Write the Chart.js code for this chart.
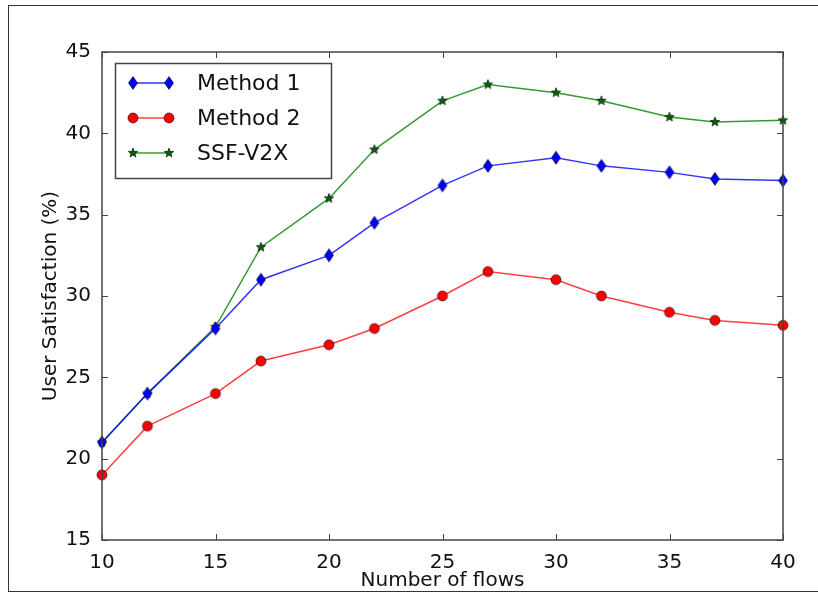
<!DOCTYPE html>
<html lang="en">
<head>
  <meta charset="UTF-8">
  <title>User Satisfaction vs Number of flows</title>
  <script src="https://cdn.jsdelivr.net/npm/chart.js"></script>
  <style>
    html, body {
      margin: 0;
      padding: 0;
      background: white;
      overflow: hidden;
    }
    #wrap {
      position: relative;
      width: 818px;
      height: 593px;
    }
    #borda {
      position: absolute;
      left: 8px;
      top: 5px;
      width: 810px;
      height: 585px;
      border-left: 1.5px solid #333;
      border-top: 1.5px solid #333;
      border-bottom: 1.5px solid #333;
      pointer-events: none;
    }
    canvas {
      display: block;
    }
  </style>
</head>
<body>
  <div id="wrap">
    <canvas id="grafico" width="818" height="593"></canvas>
    <div id="borda"></div>
  </div>

  <script>
    // data
    const flows = [10, 12, 15, 17, 20, 22, 25, 27, 30, 32, 35, 37, 40];
    const method1 = [21, 24, 28, 31, 32.5, 34.5, 36.8, 38, 38.5, 38, 37.6, 37.2, 37.1];
    const method2 = [19, 22, 24, 26, 27, 28, 30, 31.5, 31, 30, 29, 28.5, 28.2];
    const ssfV2X = [21, 24, 28.1, 33, 36, 39, 42, 43, 42.5, 42, 41, 40.7, 40.8];
    const xTicks = [10, 15, 20, 25, 30, 35, 40];
    const yTicks = [15, 20, 25, 30, 35, 40, 45];

    const FONT = "'DejaVu Sans', sans-serif";

    // marker images (matplotlib-like thin diamond, circle, star)
    function makeMarker(kind, fill) {
      const c = document.createElement('canvas');
      c.width = 16; c.height = 16;
      const g = c.getContext('2d');
      g.fillStyle = fill;
      g.strokeStyle = '#000';
      g.lineWidth = 0.6;
      g.beginPath();
      if (kind === 'diamond') {
        g.moveTo(8, 1.5); g.lineTo(12.5, 8); g.lineTo(8, 14.5); g.lineTo(3.5, 8);
        g.closePath();
      } else if (kind === 'circle') {
        g.arc(8, 8, 5, 0, Math.PI * 2);
      } else {
        for (let i = 0; i < 10; i++) {
          const r = i % 2 === 0 ? 5 : 2.1;
          const a = -Math.PI / 2 + i * Math.PI / 5;
          const px = 8 + r * Math.cos(a), py = 8 + r * Math.sin(a);
          if (i === 0) g.moveTo(px, py); else g.lineTo(px, py);
        }
        g.closePath();
      }
      g.fill();
      g.stroke();
      return c;
    }

    const series = [
      { label: 'Method 1', data: method1, color: 'rgba(0,0,255,0.8)', marker: makeMarker('diamond', '#0000ff') },
      { label: 'Method 2', data: method2, color: 'rgba(255,0,0,0.75)', marker: makeMarker('circle', '#ff0000') },
      { label: 'SSF-V2X', data: ssfV2X, color: 'rgba(0,128,0,0.8)', marker: makeMarker('star', '#006400') }
    ];

    // plot box, inward ticks and legend inside the axes (matplotlib style)
    const moldura = {
      id: 'moldura',
      afterDraw(chart) {
        const g = chart.ctx;
        const a = chart.chartArea;
        const xs = chart.scales.x, ys = chart.scales.y;
        g.save();
        g.strokeStyle = '#444';
        g.lineWidth = 1.5;
        g.strokeRect(a.left, a.top, a.right - a.left, a.bottom - a.top);
        g.lineWidth = 1;
        g.beginPath();
        xTicks.forEach((t) => {
          const px = Math.round(xs.getPixelForValue(t)) + 0.5;
          g.moveTo(px, a.bottom); g.lineTo(px, a.bottom - 6);
          g.moveTo(px, a.top); g.lineTo(px, a.top + 6);
        });
        yTicks.forEach((t) => {
          const py = Math.round(ys.getPixelForValue(t)) + 0.5;
          g.moveTo(a.left, py); g.lineTo(a.left + 6, py);
          g.moveTo(a.right, py); g.lineTo(a.right - 6, py);
        });
        g.stroke();

        const lx = 115, ly = 63, lw = 216, lh = 115;
        g.fillStyle = 'white';
        g.fillRect(lx, ly, lw, lh);
        g.strokeStyle = '#444';
        g.lineWidth = 1.5;
        g.strokeRect(lx + 0.5, ly + 0.5, lw, lh);
        g.font = '22px ' + FONT;
        g.textBaseline = 'middle';
        g.fillStyle = '#111';
        series.forEach((s, i) => {
          const y = 83 + i * 35;
          g.strokeStyle = s.color;
          g.lineWidth = 1.5;
          g.beginPath();
          g.moveTo(133, y); g.lineTo(169, y);
          g.stroke();
          g.drawImage(s.marker, 133 - 8, y - 8);
          g.drawImage(s.marker, 169 - 8, y - 8);
          g.fillText(s.label, 197, y + 1);
        });
        g.restore();
      }
    };

    const ctx = document.getElementById('grafico').getContext('2d');

    new Chart(ctx, {
      type: 'line',
      data: {
        datasets: series.map((s) => ({
          label: s.label,
          data: flows.map((f, i) => ({ x: f, y: s.data[i] })),
          borderColor: s.color,
          borderWidth: 1.5,
          pointStyle: s.marker,
          pointRadius: 5,
          tension: 0,
          clip: false
        }))
      },
      options: {
        responsive: false,
        animation: false,
        layout: {
          padding: { top: 52, right: 35, left: 9, bottom: 0 }
        },
        plugins: {
          legend: { display: false },
          tooltip: { enabled: false }
        },
        scales: {
          x: {
            type: 'linear',
            min: 10,
            max: 40,
            afterBuildTicks(scale) {
              scale.ticks = xTicks.map((v) => ({ value: v }));
            },
            afterFit(scale) {
              scale.height = 53;
            },
            grid: { display: false },
            border: { display: false },
            ticks: {
              color: '#111',
              padding: 3,
              maxRotation: 0,
              font: { family: FONT, size: 20 }
            },
            title: {
              display: true,
              text: 'Number of flows',
              color: '#111',
              padding: { top: 0, bottom: 0 },
              font: { family: FONT, size: 20 }
            }
          },
          y: {
            min: 15,
            max: 45,
            afterBuildTicks(scale) {
              scale.ticks = yTicks.map((v) => ({ value: v }));
            },
            afterFit(scale) {
              scale.width = 93;
            },
            grid: { display: false },
            border: { display: false },
            ticks: {
              color: '#111',
              padding: 3,
              font: { family: FONT, size: 20 }
            },
            title: {
              display: true,
              text: 'User Satisfaction (%)',
              color: '#111',
              padding: { top: 30, bottom: 0 },
              font: { family: FONT, size: 20 }
            }
          }
        }
      },
      plugins: [moldura]
    });
  </script>
</body>
</html>
